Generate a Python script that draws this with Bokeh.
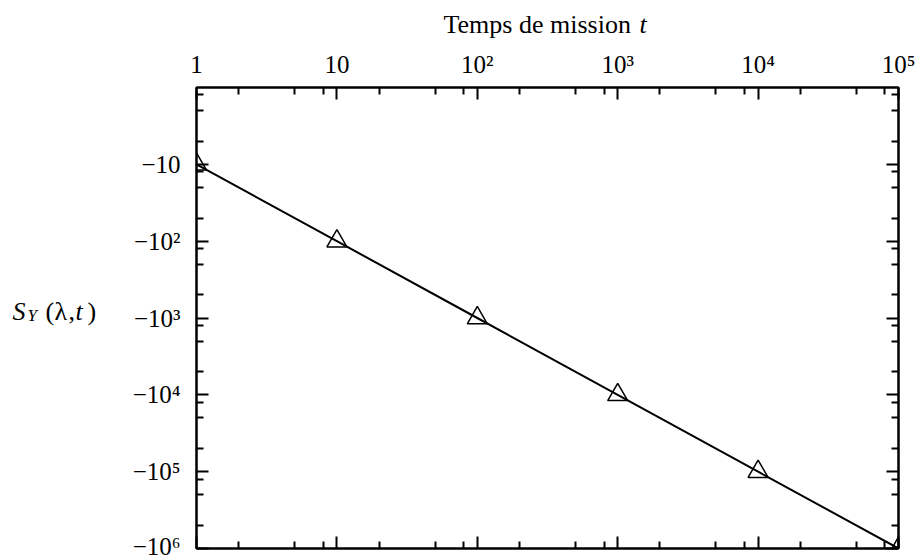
from bokeh.plotting import figure
from bokeh.layouts import column, row
from bokeh.models import LogAxis, FixedTicker, Range1d, Label, ColumnDataSource
from bokeh.embed import file_html
from bokeh.resources import INLINE

# Sensitivity of Y with respect to lambda as a function of mission time
mission_time = [1, 10, 100, 1000, 10000, 100000]
sensitivity = [-10, -100, -1000, -10000, -100000, -1000000]

x_tick_values = [1, 10, 100, 1000, 10000, 100000]
x_tick_labels = ["1", "10", "10²", "10³", "10⁴", "10⁵"]
y_tick_values = [-10, -100, -1000, -10000, -100000, -1000000]
y_tick_labels = ["−10", "−10²", "−10³", "−10⁴", "−10⁵", "−10⁶"]

FONT = "Liberation Serif"
TICK_FONT_SIZE = "25px"

W, H = 918, 559
TITLE_H = 47      # band holding the x-axis title
YLABEL_W = 110    # band holding the y-axis title


def text_panel(width, height):
    """A bare figure used only to hold text."""
    f = figure(width=width, height=height, output_backend="svg",
               toolbar_location=None, x_axis_location=None, y_axis_location=None,
               min_border=0, min_border_left=0, min_border_right=0,
               min_border_top=0, min_border_bottom=0,
               x_range=Range1d(0, width), y_range=Range1d(0, height))
    f.grid.visible = False
    f.outline_line_color = None
    return f


def put(fig, text, x, y, size="25px", style="normal"):
    # x from the left, y = baseline measured from the top of the panel
    fig.add_layout(Label(x=x, y=fig.height - y, x_units="screen", y_units="screen",
                         text=text, text_font=FONT, text_font_size=size,
                         text_font_style=style, text_baseline="alphabetic",
                         text_color="black"))


# ---- x-axis title
title_panel = text_panel(W, TITLE_H)
put(title_panel, "Temps de mission", 443, 24, size="26px")
put(title_panel, "t", 639, 24, size="26px", style="italic")

# ---- y-axis title  S_Y(λ,t)
ylabel_panel = text_panel(YLABEL_W, H - TITLE_H)
base = 322 - TITLE_H
put(ylabel_panel, "S", 12, base, size="26px", style="italic")
put(ylabel_panel, "Y", 27, base + 4, size="17px", style="italic")
put(ylabel_panel, "(", 45, base, size="26px")
put(ylabel_panel, "λ", 54, base, size="26px")
put(ylabel_panel, ",", 68, base, size="26px")
put(ylabel_panel, "t", 75, base, size="26px", style="italic")
put(ylabel_panel, ")", 87, base, size="26px")

# ---- main plot: negative values are drawn by magnitude on a reversed log axis
magnitude = [-v for v in sensitivity]
src = ColumnDataSource(dict(t=mission_time, m=magnitude))

x_minor = [m * 10 ** k for k in range(5) for m in (2, 5, 8)]
y_minor = [m * 10 ** k for k in range(6) for m in (1.25, 2, 5)]
y_major = [-v for v in y_tick_values]

p = figure(width=W - YLABEL_W, height=H - TITLE_H,
           x_axis_type="log", y_axis_type="log",
           x_axis_location="above", y_axis_location="left",
           x_range=Range1d(1, 100000), y_range=Range1d(1000000, 1),
           output_backend="svg", toolbar_location=None,
           min_border_left=86, min_border_right=20,
           min_border_top=40, min_border_bottom=11)
p.grid.visible = False
p.outline_line_color = "black"
p.outline_line_width = 2

p.add_layout(LogAxis(), "below")
p.add_layout(LogAxis(), "right")

for ax in p.xaxis:
    ax.ticker = FixedTicker(ticks=x_tick_values, minor_ticks=x_minor)
for ax in p.yaxis:
    ax.ticker = FixedTicker(ticks=y_major, minor_ticks=y_minor)

for ax in list(p.xaxis) + list(p.yaxis):
    ax.axis_line_width = 2
    ax.axis_line_color = "black"
    ax.major_tick_line_width = 2
    ax.minor_tick_line_width = 2
    ax.major_tick_in = 12
    ax.major_tick_out = 0
    ax.minor_tick_in = 7
    ax.minor_tick_out = 0
    ax.major_label_text_font = FONT
    ax.major_label_text_font_size = TICK_FONT_SIZE
    ax.major_label_text_color = "black"

top_axis = p.above[0]
top_axis.major_label_overrides = {int(v): s for v, s in zip(x_tick_values, x_tick_labels)}
top_axis.major_label_standoff = 10

left_axis = p.left[0]
left_axis.major_label_overrides = {int(-v): s for v, s in zip(y_tick_values, y_tick_labels)}
left_axis.major_label_standoff = 16

# bottom and right axes carry ticks only
for ax in (p.below[0], p.right[0]):
    ax.major_label_text_font_size = "2px"
    ax.major_label_text_alpha = 0
    ax.major_label_standoff = 0

p.line("t", "m", source=src, line_color="black", line_width=2)
p.scatter("t", "m", source=src, marker="triangle", size=20,
          fill_color=None, line_color="black", line_width=1.5)

layout = column(title_panel, row(ylabel_panel, p, spacing=0), spacing=0)

open("out.html", "w").write(file_html(layout, INLINE))
